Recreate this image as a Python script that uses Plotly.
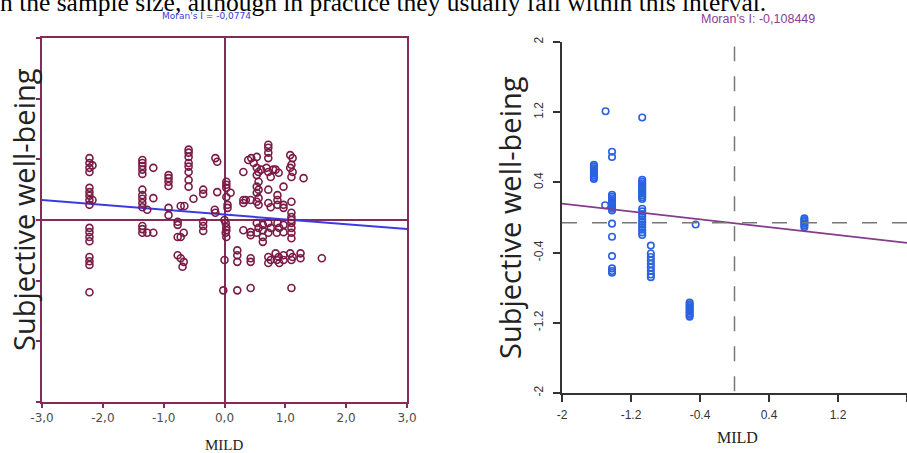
import plotly.graph_objects as go

W, H = 907, 453

# ---------------- data: left panel (GeoDa-style Moran scatter) ----------------
left_x = [-2.22, -2.22, -2.22, -2.22, -2.22, -2.22, -2.22, -2.22, -2.22, -2.22, -2.22, -2.22, -2.22, -2.22, -2.22, -2.22, -2.22,
          -2.17, -2.17,
          -1.35, -1.35, -1.35, -1.35, -1.35, -1.35, -1.35, -1.35, -1.35, -1.35, -1.35, -1.35, -1.35,
          -1.17, -1.17, -1.27, -1.27, -1.17,
          -0.92, -0.92, -0.92, -0.92, -0.92, -0.92,
          -0.72, -0.66, -0.77, -0.77, -0.77, -0.67, -0.72, -0.77, -0.72, -0.67, -0.69,
          -0.59, -0.59, -0.59, -0.59, -0.59, -0.59, -0.59, -0.59,
          -0.51, -0.35, -0.35, -0.35, -0.35, -0.35,
          -0.15, -0.12, -0.12, -0.16, -0.15,
          0.03, 0.03, 0.03, 0.03, 0.05, 0.05, 0.0, 0.02, 0.03, 0.03, 0.02, 0.03, 0.0, -0.02,
          0.10, 0.21, 0.21, 0.21, 0.21,
          0.31, 0.31, 0.31, 0.31,
          0.39, 0.44, 0.48,
          0.43, 0.43, 0.43, 0.43, 0.43, 0.43, 0.35,
          0.53, 0.53, 0.56, 0.53, 0.56, 0.53, 0.56, 0.53, 0.56, 0.53, 0.56, 0.53, 0.56, 0.53,
          0.63, 0.63, 0.63, 0.63,
          0.72, 0.72, 0.72, 0.72, 0.69, 0.72, 0.76, 0.72, 0.72, 0.76, 0.72, 0.76, 0.72, 0.72, 0.76, 0.72,
          0.84, 0.89, 0.87, 0.87, 0.87, 0.87, 0.90, 0.86, 0.84, 0.89, 0.86, 0.90,
          0.60, 0.80,
          0.97, 0.97, 0.97, 0.97, 0.97, 0.97, 0.97,
          1.08, 1.12, 1.10, 1.08, 1.12, 1.10, 1.10, 1.10, 1.10, 1.10, 1.10, 1.10, 1.10, 1.10, 1.08, 1.12, 1.10, 1.10,
          1.25, 1.25, 1.30, 1.60]
left_y = [1.02, 0.94, 0.86, 0.79, 0.53, 0.46, 0.40, 0.33, 0.25, -0.13, -0.20, -0.28, -0.35, -0.61, -0.68, -0.74, -1.19,
          0.90, 0.33,
          0.99, 0.94, 0.89, 0.83, 0.76, 0.50, 0.41, 0.35, 0.28, 0.21, -0.10, -0.15, -0.21,
          0.86, 0.36, 0.17, -0.21, -0.21,
          0.74, 0.69, 0.63, 0.56, 0.20, 0.08,
          0.23, 0.23, -0.03, -0.08, -0.28, -0.21, -0.28, -0.58, -0.63, -0.69, -0.77,
          1.16, 1.11, 1.04, 0.94, 0.88, 0.79, 0.66, 0.55,
          0.35, 0.50, 0.43, -0.03, -0.10, -0.18,
          1.02, 0.96, 0.46, 0.17, 0.12,
          0.63, 0.58, 0.53, 0.38, 0.25, 0.20, 0.00, -0.05, -0.12, -0.17, -0.21, -0.28, -0.66, -1.16,
          0.45, -0.50, -0.58, -0.69, -1.16,
          0.79, 0.33, 0.28, -0.17,
          0.99, 1.02, 0.94,
          0.33, -0.20, -0.25, -0.63, -0.69, -1.12, 0.33,
          1.04, 0.86, 0.79, 0.74, 0.63, 0.55, 0.50, 0.45, 0.36, 0.30, 0.25, -0.05, -0.13, -0.21,
          -0.28, -0.36, -0.08, -0.17,
          1.24, 1.19, 1.11, 1.02, 0.86, 0.79, 0.71, 0.50, 0.28, 0.21, -0.05, -0.13, -0.21, -0.61, -0.66, -0.71,
          0.83, 0.78, 0.41, 0.33, 0.25, -0.05, -0.13, -0.21, -0.55, -0.61, -0.66, -0.71,
          0.83, 0.83,
          0.55, 0.25, 0.20, -0.08, -0.20, -0.58, -0.66,
          1.07, 1.02, 0.91, 0.86, 0.79, 0.71, 0.30, 0.12, 0.05, 0.00, -0.05, -0.13, -0.21, -0.30, -0.55, -0.61, -0.66, -1.12,
          -0.55, -0.63, 0.69, -0.63]
left_fit_x = [-3.0, 3.0]
left_fit_y = [0.33, -0.15]
left_ticks = [-3, -2, -1, 0, 1, 2, 3]
left_ticktext = ["-3,0", "-2,0", "-1,0", "0,0", "1,0", "2,0", "3,0"]

# ---------------- data: right panel (R-style Moran scatter) ----------------
right_x = [-1.495, -1.07, -1.42, -1.42,
           -1.63, -1.63, -1.63, -1.63, -1.63, -1.63, -1.63, -1.63, -1.63,
           -1.50,
           -1.42, -1.42, -1.42, -1.42, -1.42, -1.42, -1.42, -1.42, -1.42, -1.42,
           -1.42, -1.42, -1.42, -1.42, -1.42, -1.42,
           -1.07, -1.07, -1.07, -1.07, -1.07, -1.07, -1.07, -1.07, -1.07, -1.07, -1.07, -1.07,
           -1.07, -1.07, -1.07, -1.07, -1.07, -1.07, -1.07, -1.07, -1.07, -1.07, -1.07,
           -0.97, -0.97, -0.97, -0.97, -0.97, -0.97, -0.97, -0.97, -0.97,
           -0.45,
           -0.52, -0.52, -0.52, -0.52, -0.52, -0.52, -0.52, -0.52, -0.52,
           0.81, 0.81, 0.81, 0.81, 0.81, 0.81]
right_y = [1.21, 1.14, 0.75, 0.69,
           0.60, 0.58, 0.56, 0.54, 0.52, 0.50, 0.48, 0.46, 0.44,
           0.14,
           0.26, 0.24, 0.22, 0.20, 0.18, 0.16, 0.14, 0.12, 0.10, 0.08,
           -0.07, -0.22, -0.44, -0.58, -0.61, -0.63,
           0.43, 0.41, 0.39, 0.37, 0.35, 0.33, 0.31, 0.29, 0.27, 0.25, 0.23, 0.21,
           0.10, 0.07, 0.04, 0.01, -0.02, -0.05, -0.08, -0.11, -0.14, -0.17, -0.20,
           -0.32, -0.41, -0.45, -0.49, -0.53, -0.57, -0.61, -0.65, -0.68,
           -0.08,
           -0.97, -0.99, -1.01, -1.03, -1.05, -1.07, -1.09, -1.11, -1.13,
           -0.01, -0.03, -0.05, -0.07, -0.09, -0.11]
right_fit_x = [-2.02, 2.0]
right_fit_y = [0.16, -0.29]
right_mean_x = 0.0
right_mean_y = -0.06
right_ticks = [-2, -1.2, -0.4, 0.4, 1.2, 2]
right_ticktext = ["-2", "-1.2", "-0.4", "0.4", "1.2", "2"]

# ---------------- helpers ----------------
def fx(px):
    return px / W

def fy(py):
    return 1 - py / H

MAROON = "#862a58"
MARKER_L = "#7a1a45"
BLUE_LINE = "#3b3be6"
BLUE_MK = "#2a62e0"
PURPLE = "#853a8c"

fig = go.Figure()

fig.add_trace(go.Scatter(x=left_fit_x, y=left_fit_y, mode="lines",
                         line=dict(color=BLUE_LINE, width=2), xaxis="x", yaxis="y",
                         showlegend=False, hoverinfo="skip"))
fig.add_trace(go.Scatter(x=left_x, y=left_y, mode="markers",
                         marker=dict(symbol="circle-open", size=7, color=MARKER_L,
                                     line=dict(width=1.6, color=MARKER_L)),
                         xaxis="x", yaxis="y", showlegend=False))

fig.add_trace(go.Scatter(x=right_x, y=right_y, mode="markers",
                         marker=dict(symbol="circle-open", size=6.5, color=BLUE_MK,
                                     line=dict(width=1.6, color=BLUE_MK)),
                         xaxis="x2", yaxis="y2", showlegend=False, cliponaxis=False))
fig.add_trace(go.Scatter(x=right_fit_x, y=right_fit_y, mode="lines",
                         line=dict(color=PURPLE, width=1.8), xaxis="x2", yaxis="y2",
                         showlegend=False, hoverinfo="skip", cliponaxis=False))

fig.update_layout(
    width=W, height=H,
    margin=dict(l=0, r=0, t=0, b=0, pad=0, autoexpand=False),
    paper_bgcolor="white", plot_bgcolor="white",
    showlegend=False,
    xaxis=dict(domain=[fx(42), fx(407)], range=[-3, 3], anchor="y", automargin=False,
               tickvals=left_ticks, ticktext=left_ticktext,
               ticks="outside", ticklen=4, tickwidth=1.5, tickcolor=MAROON,
               showline=True, mirror=True, linecolor=MAROON, linewidth=2,
               zeroline=True, zerolinecolor=MAROON, zerolinewidth=1.8,
               showgrid=False, fixedrange=True,
               tickfont=dict(family="DejaVu Sans", size=12, color="#4d4d4d")),
    yaxis=dict(domain=[fy(402), fy(38)], range=[-3, 3], anchor="x", automargin=False,
               tickvals=left_ticks, showticklabels=False,
               ticks="outside", ticklen=4, tickwidth=1.5, tickcolor=MAROON,
               showline=True, mirror=True, linecolor=MAROON, linewidth=2,
               zeroline=True, zerolinecolor=MAROON, zerolinewidth=1.8,
               showgrid=False),
    xaxis2=dict(domain=[fx(562), 1.0], range=[-2, 2], anchor="y2", automargin=False,
                tickvals=right_ticks, ticktext=right_ticktext,
                ticks="outside", ticklen=7, tickwidth=1.5, tickcolor="#333333",
                showline=True, linecolor="#333333", linewidth=1.5,
                zeroline=False, showgrid=False, ticklabelstandoff=3,
                tickfont=dict(family="Liberation Sans", size=12, color="#333333")),
    yaxis2=dict(domain=[fy(393), fy(42)], range=[-2, 2], anchor="x2", automargin=False,
                tickvals=right_ticks, ticktext=right_ticktext, tickangle=-90,
                ticks="outside", ticklen=7, tickwidth=1.5, tickcolor="#333333",
                showline=True, linecolor="#333333", linewidth=1.5,
                zeroline=False, showgrid=False, ticklabelstandoff=5,
                tickfont=dict(family="Liberation Sans", size=12, color="#333333")),
    shapes=[
        dict(type="line", xref="x2", yref="y2", x0=right_mean_x, x1=right_mean_x, y0=-1.98, y1=1.95,
             line=dict(color="#777777", width=1.5, dash="longdash")),
        dict(type="line", xref="x2", yref="y2", x0=-2, x1=2, y0=right_mean_y, y1=right_mean_y,
             line=dict(color="#777777", width=1.5, dash="longdash")),
    ],
)

ann = [
    dict(text="n the sample size, although in practice they usually fall within this interval.",
         x=fx(-2), y=fy(2.5), xanchor="left", yanchor="middle",
         font=dict(family="Liberation Serif", size=25.5, color="black")),
    dict(text="Moran's I = -0,0774", x=fx(206), y=fy(16.5), xanchor="center", yanchor="middle",
         font=dict(family="DejaVu Sans", size=9, color="#3a3ad0")),
    dict(text="Moran's I: -0,108449", x=fx(758), y=fy(19), xanchor="center", yanchor="middle",
         font=dict(family="Liberation Sans", size=12.5, color="#8a3c96")),
    dict(text="Subjective well-being", x=fx(24), y=fy(210), xanchor="center", yanchor="middle",
         textangle=-90, font=dict(family="Open Sans", size=29, color="#222222")),
    dict(text="Subjective well-being", x=fx(509), y=fy(218), xanchor="center", yanchor="middle",
         textangle=-90, font=dict(family="Open Sans", size=29, color="#222222")),
    dict(text="MILD", x=fx(224), y=fy(445), xanchor="center", yanchor="middle",
         font=dict(family="Liberation Serif", size=15, color="#222222")),
    dict(text="MILD", x=fx(737), y=fy(437), xanchor="center", yanchor="middle",
         font=dict(family="Liberation Serif", size=16, color="#222222")),
]
for a in ann:
    a.update(xref="paper", yref="paper", showarrow=False)
fig.update_layout(annotations=ann)

fig.write_html("out.html",
               config={"displayModeBar": False},
               post_script="document.body.style.margin='0';document.body.style.overflow='hidden';")
